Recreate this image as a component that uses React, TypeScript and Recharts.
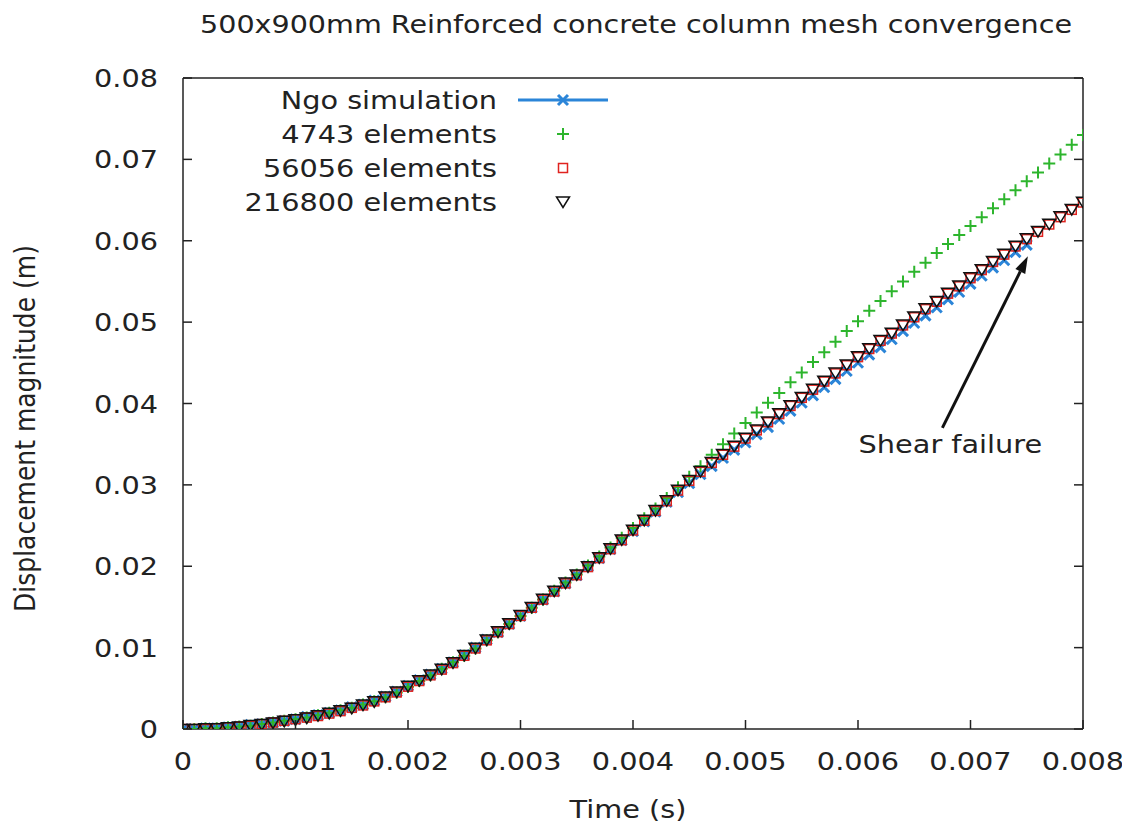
import React from "react";
import {
  ComposedChart,
  Line,
  Scatter,
  XAxis,
  YAxis,
  ReferenceLine,
} from "recharts";

// time steps (s)
const TIME = [
  0, 0.0001, 0.0002, 0.0003, 0.0004, 0.0005, 0.0006, 0.0007, 0.0008, 0.0009,
  0.001, 0.0011, 0.0012, 0.0013, 0.0014, 0.0015, 0.0016, 0.0017, 0.0018, 0.0019,
  0.002, 0.0021, 0.0022, 0.0023, 0.0024, 0.0025, 0.0026, 0.0027, 0.0028, 0.0029,
  0.003, 0.0031, 0.0032, 0.0033, 0.0034, 0.0035, 0.0036, 0.0037, 0.0038, 0.0039,
  0.004, 0.0041, 0.0042, 0.0043, 0.0044, 0.0045, 0.0046, 0.0047, 0.0048, 0.0049,
  0.005, 0.0051, 0.0052, 0.0053, 0.0054, 0.0055, 0.0056, 0.0057, 0.0058, 0.0059,
  0.006, 0.0061, 0.0062, 0.0063, 0.0064, 0.0065, 0.0066, 0.0067, 0.0068, 0.0069,
  0.007, 0.0071, 0.0072, 0.0073, 0.0074, 0.0075, 0.0076, 0.0077, 0.0078, 0.0079,
  0.008,
];

// displacement magnitude (m)
const NGO = [
  0.0, 0.0, 0.0001, 0.0001, 0.0002, 0.0003, 0.0005, 0.0006, 0.0008, 0.001,
  0.0012, 0.0015, 0.0017, 0.002, 0.0023, 0.0027, 0.003, 0.0035, 0.004, 0.0046,
  0.0053, 0.006, 0.0067, 0.0074, 0.0082, 0.0091, 0.01, 0.011, 0.0119, 0.0129,
  0.0139, 0.0149, 0.0159, 0.0169, 0.0179, 0.0189, 0.02, 0.021, 0.0221, 0.0232,
  0.0243, 0.0255, 0.0267, 0.0279, 0.0291, 0.0302, 0.0313, 0.0323, 0.0333, 0.0343,
  0.0352, 0.0362, 0.0371, 0.0381, 0.0391, 0.0401, 0.041, 0.042, 0.043, 0.044,
  0.045, 0.046, 0.0469, 0.0479, 0.0489, 0.0499, 0.0508, 0.0518, 0.0528, 0.0537,
  0.0547, 0.0557, 0.0567, 0.0576, 0.0586, 0.0595,
];

const EL_4743 = [
  0.0, 0.0, 0.0001, 0.0001, 0.0002, 0.0003, 0.0004, 0.0006, 0.0008, 0.001,
  0.0012, 0.0014, 0.0017, 0.002, 0.0023, 0.0026, 0.003, 0.0034, 0.0039, 0.0045,
  0.0052, 0.0059, 0.0066, 0.0074, 0.0082, 0.009, 0.0099, 0.0109, 0.0119, 0.0129,
  0.0139, 0.0149, 0.0159, 0.017, 0.018, 0.019, 0.0201, 0.0212, 0.0223, 0.0235,
  0.0247, 0.0259, 0.0271, 0.0284, 0.0297, 0.031, 0.0323, 0.0337, 0.035, 0.0363,
  0.0376, 0.0389, 0.0401, 0.0413, 0.0426, 0.0438, 0.0451, 0.0463, 0.0476, 0.0489,
  0.0501, 0.0514, 0.0526, 0.0538, 0.055, 0.0562, 0.0573, 0.0585, 0.0596, 0.0607,
  0.0618, 0.0629, 0.064, 0.0651, 0.0662, 0.0673, 0.0684, 0.0695, 0.0706, 0.0718,
  0.073,
];

const EL_56056 = [
  0.0, 0.0, 0.0, 0.0001, 0.0002, 0.0003, 0.0004, 0.0006, 0.0008, 0.001,
  0.0012, 0.0014, 0.0016, 0.0019, 0.0022, 0.0026, 0.0029, 0.0034, 0.0039, 0.0045,
  0.0052, 0.0059, 0.0066, 0.0073, 0.0081, 0.009, 0.0099, 0.0109, 0.0119, 0.0129,
  0.0139, 0.0149, 0.0159, 0.0169, 0.0179, 0.0189, 0.0199, 0.021, 0.0221, 0.0232,
  0.0244, 0.0256, 0.0268, 0.028, 0.0293, 0.0305, 0.0316, 0.0327, 0.0337, 0.0347,
  0.0357, 0.0367, 0.0377, 0.0387, 0.0397, 0.0407, 0.0417, 0.0427, 0.0437, 0.0447,
  0.0457, 0.0467, 0.0477, 0.0486, 0.0496, 0.0506, 0.0516, 0.0525, 0.0535, 0.0544,
  0.0554, 0.0564, 0.0574, 0.0583, 0.0593, 0.0602, 0.0611, 0.062, 0.0629, 0.0638,
  0.0647,
];

const EL_216800 = [
  0.0, 0.0, 0.0001, 0.0001, 0.0002, 0.0003, 0.0005, 0.0006, 0.0008, 0.001,
  0.0012, 0.0014, 0.0017, 0.002, 0.0023, 0.0026, 0.003, 0.0034, 0.004, 0.0046,
  0.0053, 0.006, 0.0067, 0.0074, 0.0082, 0.0091, 0.01, 0.011, 0.012, 0.013,
  0.014, 0.015, 0.016, 0.017, 0.018, 0.019, 0.02, 0.0211, 0.0222, 0.0233,
  0.0245, 0.0257, 0.0269, 0.0281, 0.0294, 0.0306, 0.0317, 0.0328, 0.0338, 0.0348,
  0.0358, 0.0368, 0.0378, 0.0388, 0.0398, 0.0408, 0.0418, 0.0428, 0.0438, 0.0448,
  0.0458, 0.0468, 0.0478, 0.0487, 0.0497, 0.0507, 0.0517, 0.0526, 0.0536, 0.0545,
  0.0555, 0.0565, 0.0575, 0.0584, 0.0594, 0.0603, 0.0612, 0.0621, 0.063, 0.0639,
  0.0648,
];

const X_TICKS = [0, 0.001, 0.002, 0.003, 0.004, 0.005, 0.006, 0.007, 0.008];
const Y_TICKS = [0, 0.01, 0.02, 0.03, 0.04, 0.05, 0.06, 0.07, 0.08];

const LEGEND = ["Ngo simulation", "4743 elements", "56056 elements", "216800 elements"];

// arrow for the shear failure note: tail, tip
const ARROW = [
  { x: 0.00675, y: 0.037 },
  { x: 0.00751, y: 0.0581 },
];

const W = 1122;
const H = 820;

const BLUE = "#2b85d8";
const GREEN = "#2db52d";
const RED = "#e0231f";
const BLACK = "#111";
const AXIS = "#222";
const FONT = "'DejaVu Sans', sans-serif";

const pts = (vals: number[]) => vals.map((v, i) => ({ t: TIME[i], v }));

const fmt = (v: number) => (v === 0 ? "0" : String(v));

// gnuplot-ish wide glyphs
function SText({ x, y, anchor = "start", size = 25, children }: any) {
  return (
    <text
      transform={`translate(${x} ${y}) scale(1.15 1)`}
      textAnchor={anchor}
      fontFamily={FONT}
      fontSize={size}
      fill="#222"
    >
      {children}
    </text>
  );
}

const XMark = ({ cx, cy }: any) =>
  cx == null ? null : (
    <path
      d={`M${cx - 5},${cy - 5}L${cx + 5},${cy + 5}M${cx - 5},${cy + 5}L${cx + 5},${cy - 5}`}
      stroke={BLUE}
      strokeWidth={3}
      fill="none"
    />
  );

const PlusMark = ({ cx, cy }: any) => (
  <path
    d={`M${cx - 6},${cy}L${cx + 6},${cy}M${cx},${cy - 6}L${cx},${cy + 6}`}
    stroke={GREEN}
    strokeWidth={2}
    fill="none"
  />
);

const SquareMark = ({ cx, cy }: any) => (
  <rect x={cx - 4.5} y={cy - 4.5} width={9} height={9} fill="none" stroke={RED} strokeWidth={1.5} />
);

const TriMark = ({ cx, cy }: any) => (
  <polygon
    points={`${cx - 6.5},${cy - 4.5} ${cx + 6.5},${cy - 4.5} ${cx},${cy + 6}`}
    fill="none"
    stroke={BLACK}
    strokeWidth={1.5}
  />
);

const LeftTick = ({ x, y, payload }: any) => (
  <g>
    <line x1={x} y1={y} x2={x + 9} y2={y} stroke={AXIS} strokeWidth={1.5} />
    <SText x={x - 25} y={y + 9} anchor="end">{fmt(payload.value)}</SText>
  </g>
);

const RightTick = ({ x, y }: any) => (
  <line x1={x} y1={y} x2={x - 9} y2={y} stroke={AXIS} strokeWidth={1.5} />
);

const BottomTick = ({ x, y, payload }: any) => (
  <g>
    <line x1={x} y1={y} x2={x} y2={y - 9} stroke={AXIS} strokeWidth={1.5} />
    <SText x={x} y={y + 41} anchor="middle">{fmt(payload.value)}</SText>
  </g>
);

const TopTick = ({ x, y }: any) => (
  <line x1={x} y1={y} x2={x} y2={y + 9} stroke={AXIS} strokeWidth={1.5} />
);

function ArrowNote(props: any) {
  const { x1, y1, x2, y2 } = props;
  if (x1 == null) return null;
  const ang = Math.atan2(y2 - y1, x2 - x1);
  const len = 17;
  const hw = 5.5;
  const bx = x2 - len * Math.cos(ang);
  const by = y2 - len * Math.sin(ang);
  const nx = -Math.sin(ang) * hw;
  const ny = Math.cos(ang) * hw;
  return (
    <g>
      <line x1={x1} y1={y1} x2={bx} y2={by} stroke={BLACK} strokeWidth={3} />
      <polygon points={`${x2},${y2} ${bx + nx},${by + ny} ${bx - nx},${by - ny}`} fill={BLACK} />
      <SText x={x1 + 8} y={y1 + 25} anchor="middle">Shear failure</SText>
    </g>
  );
}

function Legend() {
  const rows = [101, 135, 169, 202.5];
  const mx = 555;
  return (
    <svg
      width={W}
      height={H}
      style={{ position: "absolute", left: 0, top: 0, pointerEvents: "none" }}
    >
      <text
        x={628}
        y={25}
        textAnchor="middle"
        fontFamily={FONT}
        fontSize={25}
        fill="#222"
        textLength={872}
        lengthAdjust="spacingAndGlyphs"
      >
        500x900mm Reinforced concrete column mesh convergence
      </text>
      {LEGEND.map((name, i) => (
        <SText key={name} x={489} y={rows[i]} anchor="end">{name}</SText>
      ))}
      <line x1={510} y1={rows[0] - 9} x2={600} y2={rows[0] - 9} stroke={BLUE} strokeWidth={3} />
      <XMark cx={mx} cy={rows[0] - 9} />
      <PlusMark cx={mx} cy={rows[1] - 9} />
      <SquareMark cx={mx} cy={rows[2] - 9} />
      <TriMark cx={mx} cy={rows[3] - 9} />
    </svg>
  );
}

export default function App() {
  return (
    <div style={{ position: "relative", width: W, height: H, background: "#fff" }}>
      <ComposedChart width={W} height={H} margin={{ top: 0, right: 8, bottom: 8, left: 0 }}>
        <XAxis
          xAxisId="b"
          dataKey="t"
          type="number"
          domain={[0, 0.008]}
          ticks={X_TICKS}
          height={91}
          tickSize={0}
          tickMargin={0}
          tickLine={false}
          axisLine={{ stroke: AXIS, strokeWidth: 1.5 }}
          tick={(p: any) => <BottomTick {...p} />}
          allowDataOverflow
          label={({ viewBox }: any) => (
            <SText x={viewBox.x + viewBox.width / 2 - 5} y={viewBox.y + 89} anchor="middle">
              Time (s)
            </SText>
          )}
        />
        <XAxis
          xAxisId="t"
          orientation="top"
          type="number"
          domain={[0, 0.008]}
          ticks={X_TICKS}
          height={70}
          tickSize={0}
          tickMargin={0}
          tickLine={false}
          axisLine={{ stroke: AXIS, strokeWidth: 1.5 }}
          tick={(p: any) => <TopTick {...p} />}
          allowDataOverflow
        />
        <YAxis
          yAxisId="l"
          dataKey="v"
          type="number"
          domain={[0, 0.08]}
          ticks={Y_TICKS}
          width={175}
          tickSize={0}
          tickMargin={0}
          tickLine={false}
          axisLine={{ stroke: AXIS, strokeWidth: 1.5 }}
          tick={(p: any) => <LeftTick {...p} />}
          allowDataOverflow
          label={({ viewBox }: any) => (
            <text
              transform={`translate(27 ${viewBox.y + viewBox.height / 2 + 25}) rotate(-90) scale(1 1.15)`}
              textAnchor="middle"
              fontFamily={FONT}
              fontSize={25}
              fill="#222"
            >
              Displacement magnitude (m)
            </text>
          )}
        />
        <YAxis
          yAxisId="r"
          orientation="right"
          type="number"
          domain={[0, 0.08]}
          ticks={Y_TICKS}
          width={39}
          tickSize={0}
          tickMargin={0}
          tickLine={false}
          axisLine={{ stroke: AXIS, strokeWidth: 1.5 }}
          tick={(p: any) => <RightTick {...p} />}
          allowDataOverflow
        />
        <Line
          xAxisId="b"
          yAxisId="l"
          data={pts(NGO)}
          dataKey="v"
          stroke={BLUE}
          strokeWidth={1.5}
          dot={(p: any) => <XMark key={p.index} {...p} />}
          activeDot={false}
          isAnimationActive={false}
        />
        <Scatter
          xAxisId="b"
          yAxisId="l"
          data={pts(EL_4743)}
          dataKey="v"
          shape={(p: any) => <PlusMark {...p} />}
          isAnimationActive={false}
        />
        <Scatter
          xAxisId="b"
          yAxisId="l"
          data={pts(EL_56056)}
          dataKey="v"
          shape={(p: any) => <SquareMark {...p} />}
          isAnimationActive={false}
        />
        <Scatter
          xAxisId="b"
          yAxisId="l"
          data={pts(EL_216800)}
          dataKey="v"
          shape={(p: any) => <TriMark {...p} />}
          isAnimationActive={false}
        />
        <ReferenceLine
          xAxisId="b"
          yAxisId="l"
          segment={ARROW}
          ifOverflow="visible"
          shape={(p: any) => <ArrowNote {...p} />}
        />
      </ComposedChart>
      <Legend />
    </div>
  );
}
